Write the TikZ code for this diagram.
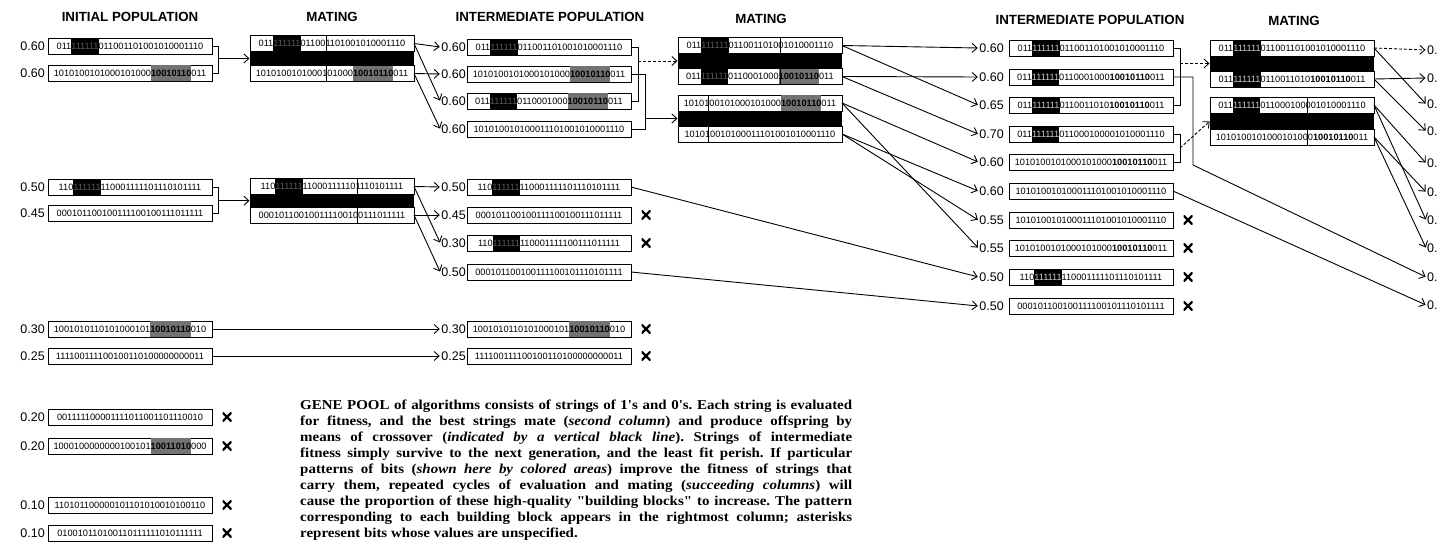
\documentclass[tikz,border=0pt]{standalone}
\usepackage{fontspec}
\setmainfont{Liberation Serif}
\setsansfont{Liberation Sans}
\newfontfamily\capserif[FakeStretch=1.1]{Liberation Serif}
\usetikzlibrary{arrows.meta,calc}
\newcommand\bitfont{\sffamily\fontsize{9.2}{10}\selectfont}
\newcommand\labfont{\sffamily\fontsize{12.5}{13}\selectfont}
\newcommand\hdrfont{\sffamily\bfseries\fontsize{13.3}{14}\selectfont}
\newcommand\capfont{\capserif\bfseries\frenchspacing\fontsize{13.6}{16}\selectfont}
\newcommand\bstrut{\rule[-4.2pt]{0pt}{15.2pt}}
\newcommand\bA[1]{{\fboxsep=0pt\colorbox{black}{\bstrut\textcolor{black!65}{#1}}}}
\newcommand\bB[1]{{\fboxsep=0pt\colorbox{black!55}{\bstrut\textcolor{black}{\bfseries #1}}}}
\newcommand\bC[1]{{\fboxsep=0pt\colorbox{black}{\bstrut\textcolor{white!80!black}{#1}}}}
\newcommand\bD[1]{{\bfseries #1}}
\begin{document}
\begin{tikzpicture}[x=1pt,y=-1pt,
  bits/.style={draw, line width=0.9pt, minimum width=164pt, minimum height=16pt,
    inner sep=0pt, outer sep=0pt, anchor=west, font=\bitfont,
    execute at begin node=\bstrut},
  lab/.style={font=\labfont, inner sep=1pt, anchor=east},
  rlab/.style={font=\labfont, inner sep=1pt, anchor=west},
  hdr/.style={font=\hdrfont, inner sep=0pt},
  conn/.style={line width=0.9pt},
  arr/.style={conn, -{Straight Barb[length=5pt,width=9pt]}, shorten >=0.5pt},
  dsh/.style={dash pattern=on 3pt off 2pt},
  xo/.style={line width=1pt},
  band/.style={fill=black},
  xmark/.style={minimum size=9pt, inner sep=0pt, outer sep=0pt, fill=white,
    path picture={\draw[line width=2.4pt]
      (path picture bounding box.south west) -- (path picture bounding box.north east)
      (path picture bounding box.north west) -- (path picture bounding box.south east);}}
]
\useasboundingbox (0,0) rectangle (1438,546);

% headers
\node[hdr] (h1) at (130,17) {INITIAL POPULATION};
\node[hdr] (h2) at (332,17) {MATING};
\node[hdr] (h3) at (550,17) {INTERMEDIATE POPULATION};
\node[hdr] (h4) at (761,19) {MATING};
\node[hdr] (h5) at (1090,20) {INTERMEDIATE POPULATION};
\node[hdr] (h6) at (1294,21) {MATING};

% column 1: initial population
\node[bits] (a1) at (48,46) {011\bA{111111}011001101001010001110};
\node[bits] (a2) at (48,73) {1010100101000101000\bB{10010110}011};
\node[bits] (a3) at (48,187) {110\bA{111111}110001111101110101111};
\node[bits] (a4) at (48,213) {000101100100111100100111011111};
\node[bits] (a5) at (48,329) {1001010110101000101\bB{10010110}010};
\node[bits] (a6) at (48,356) {111100111100100110100000000011};
\node[bits] (a7) at (48,417) {001111100001111011001101110010};
\node[bits] (a8) at (48,446) {1000100000000100101\bB{10011010}000};
\node[bits] (a9) at (48,505) {110101100000101101010010100110};
\node[bits] (a10) at (48,533) {010010110100110111111010111111};
\node[lab] (la1) at (46,46) {0.60};
\node[lab] (la2) at (46,73) {0.60};
\node[lab] (la3) at (46,187) {0.50};
\node[lab] (la4) at (46,213) {0.45};
\node[lab] (la5) at (46,329) {0.30};
\node[lab] (la6) at (46,356) {0.25};
\node[lab] (la7) at (46,417) {0.20};
\node[lab] (la8) at (46,446) {0.20};
\node[lab] (la9) at (46,505) {0.10};
\node[lab] (la10) at (46,533) {0.10};
\node[xmark] (xa7) at (227,417) {};
\node[xmark] (xa8) at (227,446) {};
\node[xmark] (xa9) at (227,505) {};
\node[xmark] (xa10) at (227,533) {};

% column 2: mating
\node[bits] (m1t) at (250,43.5) {011\bA{111111}011001101001010001110};
\node[bits] (m1b) at (250,73.5) {1010100101000101000\bB{10010110}011};
\fill[band] (m1t.south west) rectangle (m1b.north east);
\draw[xo] ($(m1t.north west)+(5.25+14*5.1166,0)$) -- ($(m1b.south west)+(5.25+14*5.1166,0)$);
\node[bits] (m2t) at (250,186.5) {110\bA{111111}110001111101110101111};
\node[bits] (m2b) at (250,215) {000101100100111100100111011111};
\fill[band] (m2t.south west) rectangle (m2b.north east);
\draw[xo] ($(m2t.north west)+(5.25+20*5.1166,0)$) -- ($(m2b.south west)+(5.25+20*5.1166,0)$);

% column 3: intermediate population
\node[bits] (b1) at (467,47) {011\bA{111111}011001101001010001110};
\node[bits] (b2) at (467,74) {1010100101000101000\bB{10010110}011};
\node[bits] (b3) at (467,101) {011\bA{111111}0110001000\bB{10010110}011};
\node[bits] (b4) at (467,129) {101010010100011101001010001110};
\node[bits] (b5) at (467,187) {110\bA{111111}110001111101110101111};
\node[bits] (b6) at (467,215) {000101100100111100100111011111};
\node[bits] (b7) at (467,243) {110\bA{111111}110001111100111011111};
\node[bits] (b8) at (467,272) {000101100100111100101110101111};
\node[bits] (b9) at (467,329) {1001010110101000101\bB{10010110}010};
\node[bits] (b10) at (467,356) {111100111100100110100000000011};
\node[lab] (lb1) at (467,47) {0.60};
\node[lab] (lb2) at (467,74) {0.60};
\node[lab] (lb3) at (467,101) {0.60};
\node[lab] (lb4) at (467,129) {0.60};
\node[lab] (lb5) at (467,187) {0.50};
\node[lab] (lb6) at (467,215) {0.45};
\node[lab] (lb7) at (467,243) {0.30};
\node[lab] (lb8) at (467,272) {0.50};
\node[lab] (lb9) at (467,329) {0.30};
\node[lab] (lb10) at (467,356) {0.25};
\node[xmark] (xb6) at (646,215) {};
\node[xmark] (xb7) at (646,243) {};
\node[xmark] (xb9) at (646,329) {};
\node[xmark] (xb10) at (646,356) {};

% column 4: mating
\node[bits] (m3t) at (678,45.5) {011\bA{111111}011001101001010001110};
\node[bits] (m3b) at (678,76.5) {011\bA{111111}0110001000\bB{10010110}011};
\fill[band] (m3t.south west) rectangle (m3b.north east);
\draw[xo] ($(m3t.north west)+(5.25+19*5.1166,0)$) -- ($(m3b.south west)+(5.25+19*5.1166,0)$);
\node[bits] (m4t) at (678,103) {1010100101000101000\bB{10010110}011};
\node[bits] (m4b) at (678,134) {101010010100011101001010001110};
\fill[band] (m4t.south west) rectangle (m4b.north east);
\draw[xo] ($(m4t.north west)+(5.25+5*5.1166,0)$) -- ($(m4b.south west)+(5.25+5*5.1166,0)$);

% column 5: intermediate population
\node[bits] (c1) at (1009,48) {011\bC{111111}011001101001010001110};
\node[bits] (c2) at (1009,77) {011\bC{111111}0110001000\bD{10010110}011};
\node[bits] (c3) at (1009,105) {011\bC{111111}0110011010\bD{10010110}011};
\node[bits] (c4) at (1009,134) {011\bC{111111}011000100001010001110};
\node[bits] (c5) at (1009,162) {1010100101000101000\bD{10010110}011};
\node[bits] (c6) at (1009,191) {101010010100011101001010001110};
\node[bits] (c7) at (1009,220) {101010010100011101001010001110};
\node[bits] (c8) at (1009,248) {1010100101000101000\bD{10010110}011};
\node[bits] (c9) at (1009,277) {110\bC{111111}110001111101110101111};
\node[bits] (c10) at (1009,306) {000101100100111100101110101111};
\node[lab] (lc1) at (1005,48) {0.60};
\node[lab] (lc2) at (1005,77) {0.60};
\node[lab] (lc3) at (1005,105) {0.65};
\node[lab] (lc4) at (1005,134) {0.70};
\node[lab] (lc5) at (1005,162) {0.60};
\node[lab] (lc6) at (1005,191) {0.60};
\node[lab] (lc7) at (1005,220) {0.55};
\node[lab] (lc8) at (1005,248) {0.55};
\node[lab] (lc9) at (1005,277) {0.50};
\node[lab] (lc10) at (1005,306) {0.50};
\node[xmark] (xc7) at (1188,220) {};
\node[xmark] (xc8) at (1188,248) {};
\node[xmark] (xc9) at (1188,277) {};
\node[xmark] (xc10) at (1188,306) {};

% column 6: mating
\node[bits] (m5t) at (1210,48) {011\bC{111111}011001101001010001110};
\node[bits] (m5b) at (1210,79) {011\bC{111111}0110011010\bD{10010110}011};
\fill[band] (m5t.south west) rectangle (m5b.north east);
\node[bits] (m6t) at (1210,105) {011\bC{111111}011000100001010001110};
\node[bits] (m6b) at (1210,137) {1010100101000101000\bD{10010110}011};
\fill[band] (m6t.south west) rectangle (m6b.north east);
\draw[xo] ($(m6t.north west)+(5.25+18*5.1166,0)$) -- ($(m6b.south west)+(5.25+18*5.1166,0)$);

% column 7: next population (cut off)
\node[rlab] (d1) at (1426,50) {0.};
\node[rlab] (d2) at (1426,78) {0.};
\node[rlab] (d3) at (1426,104) {0.};
\node[rlab] (d4) at (1426,131) {0.};
\node[rlab] (d5) at (1426,163) {0.};
\node[rlab] (d6) at (1426,192) {0.};
\node[rlab] (d7) at (1426,220) {0.};
\node[rlab] (d8) at (1426,248) {0.};
\node[rlab] (d9) at (1426,277) {0.};
\node[rlab] (d10) at (1426,305) {0.};

% mid points of mating groups
\coordinate (m1m) at ($(m1t.south west)!0.5!(m1b.north west)$);
\coordinate (m2m) at ($(m2t.south west)!0.5!(m2b.north west)$);
\coordinate (m3m) at ($(m3t.south west)!0.5!(m3b.north west)$);
\coordinate (m4m) at ($(m4t.south west)!0.5!(m4b.north west)$);
\coordinate (m5m) at ($(m5t.south west)!0.5!(m5b.north west)$);
\coordinate (m6m) at ($(m6t.south west)!0.5!(m6b.north west)$);

% connectors: column 1 -> mating
\coordinate (ka1) at ($(a1.east)+(6,0)$);
\draw[conn] (a1.east) -- (ka1) |- (a2.east);
\draw[arr] (ka1 |- m1m) -- (m1m);
\coordinate (ka3) at ($(a3.east)+(6,0)$);
\draw[conn] (a3.east) -- (ka3) |- (a4.east);
\draw[arr] (ka3 |- m2m) -- (m2m);
\draw[arr] (a5.east) -- (lb9.west);
\draw[arr] (a6.east) -- (lb10.west);

% mating -> intermediate
\draw[arr] (m1t.east) -- (lb1.west);
\draw[arr] (m1t.east) -- (lb3.west);
\draw[arr] (m1b.east) -- (lb2.west);
\draw[arr] (m1b.east) -- (lb4.west);
\draw[arr] (m2t.east) -- (lb5.west);
\draw[arr] (m2t.east) -- (lb7.west);
\draw[arr] (m2b.east) -- (lb6.west);
\draw[arr] (m2b.east) -- (lb8.west);

% intermediate -> mating
\coordinate (kb1) at ($(b1.east)+(7,0)$);
\draw[conn] (b1.east) -- (kb1) |- (b3.east);
\draw[arr,dsh] (kb1 |- m3m) -- (m3m);
\coordinate (kb2) at ($(b2.east)+(14,0)$);
\draw[conn] (b2.east) -- (kb2) |- (b4.east);
\draw[arr] (kb2 |- m4m) -- (m4m);
\draw[arr] (b5.east) -- (lc9.west);
\draw[arr] (b8.east) -- (lc10.west);

% mating -> intermediate 2
\draw[arr] (m3t.east) -- (lc1.west);
\draw[arr] (m3t.east) -- (lc3.west);
\draw[arr] (m3b.east) -- (lc2.west);
\draw[arr] (m3b.east) -- (lc4.west);
\draw[arr] (m4t.east) -- (lc5.west);
\draw[arr] (m4t.east) -- (lc8.west);
\draw[arr] (m4b.east) -- (lc6.west);
\draw[arr] (m4b.east) -- (lc7.west);

% intermediate 2 -> mating 3
\coordinate (kc1) at ($(c1.east)+(7,0)$);
\draw[conn] (c1.east) -- (kc1) |- (c3.east);
\draw[arr,dsh] (kc1 |- m5m) -- (m5m);
\coordinate (kc4) at ($(c4.east)+(7,0)$);
\draw[conn] (c4.east) -- (kc4) |- (c5.east);
\coordinate (kc45) at ($(kc4)!0.5!(kc4 |- c5.east)$);
\draw[arr,dsh] (kc45) -- (m6m);
\coordinate (kc2) at ($(c2.east)+(20,88)$);
\draw[arr] (c2.east) -| (kc2) -- (d9.west);
\draw[arr] (c6.east) -- (d10.west);

% mating 3 -> next
\draw[arr,dsh] (m5t.east) -- (d1.west);
\draw[arr] (m5t.east) -- (d3.west);
\draw[arr] (m5b.east) -- (d2.west);
\draw[arr] (m5b.east) -- (d4.west);
\draw[arr] (m6t.east) -- (d5.west);
\draw[arr] (m6t.east) -- (d7.west);
\draw[arr] (m6b.east) -- (d6.west);
\draw[arr] (m6b.east) -- (d8.west);

% caption
\node[anchor=north west, inner sep=0pt, text width=552pt, align=justify, font=\capfont] (cap) at (300,400)
{GENE POOL of algorithms consists of strings of 1's and 0's. Each string is evaluated\linebreak
for fitness, and the best strings mate (\textit{second column}) and produce offspring by\linebreak
means of crossover (\textit{indicated by a vertical black line}). Strings of intermediate\linebreak
fitness simply survive to the next generation, and the least fit perish. If particular\linebreak
patterns of bits (\textit{shown here by colored areas}) improve the fitness of strings that\linebreak
carry them, repeated cycles of evaluation and mating (\textit{succeeding columns}) will\linebreak
cause the proportion of these high-quality "building blocks" to increase. The pattern\linebreak
corresponding to each building block appears in the rightmost column; asterisks\linebreak
represent bits whose values are unspecified.};
\end{tikzpicture}
\end{document}
